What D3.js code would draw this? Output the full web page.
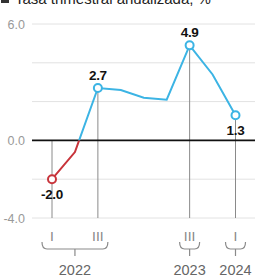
<!DOCTYPE html>
<html><head><meta charset="utf-8">
<script src="https://cdn.jsdelivr.net/npm/d3@7"></script>
<style>
html,body{margin:0;padding:0;background:#fff;}
svg{display:block;font-family:"Liberation Sans",Arial,sans-serif;}
</style></head>
<body><svg id="c" width="255" height="278"></svg>
<script>
const quarters = ["I","II","III","IV","I","II","III","IV","I"];
const years = ["2022","2022","2022","2022","2023","2023","2023","2023","2024"];
const values = [-2.0, -0.6, 2.7, 2.6, 2.2, 2.1, 4.9, 3.4, 1.3];
const labeled = [0, 2, 6, 8];
const yTicks = [6, 4, 2, 0, -2, -4];
const yTickLabels = ["6.0", "0.0", "-4.0"];
const yTickLabelValues = [6, 0, -4];
const yearGroups = [
  {year:"2022", from:0, to:2},
  {year:"2023", from:6, to:6},
  {year:"2024", from:8, to:8}
];
const title = "Tasa trimestral anualizada, %";

const svg = d3.select("#c");
const x = d3.scaleLinear().domain([0, 8]).range([52, 235.5]);
const y = d3.scaleLinear().domain([-4, 6]).range([218, 24]);
const blue = "#3cb4e4", red = "#c8343b";

// title (cut off at top, as in the source crop)
svg.append("rect").attr("x", 1).attr("y", -6).attr("width", 8).attr("height", 9).attr("fill", "#333");
svg.append("text").attr("x", 15).attr("y", 3.5).attr("font-size", 15).attr("fill", "#222").text(title);

// gridlines
svg.append("g").selectAll("line").data(yTicks.filter(d => d !== 0)).join("line")
  .attr("x1", 32).attr("x2", 255)
  .attr("y1", d => y(d)).attr("y2", d => y(d))
  .attr("stroke", "#e2e2e2").attr("stroke-width", 1);

// y labels
svg.append("g").selectAll("text").data(yTickLabelValues).join("text")
  .attr("x", 25).attr("y", d => y(d) + 4.5)
  .attr("text-anchor", "end").attr("font-size", 12.5).attr("fill", "#999")
  .text((d, i) => yTickLabels[i]);

// vertical drop lines at labeled points
svg.append("g").selectAll("line").data(labeled).join("line")
  .attr("x1", i => x(i)).attr("x2", i => x(i))
  .attr("y1", i => y(Math.max(values[i], 0))).attr("y2", y(-4))
  .attr("stroke", "#8a8a8a").attr("stroke-width", 1);

// zero line
svg.append("line").attr("x1", 32).attr("x2", 255).attr("y1", y(0)).attr("y2", y(0))
  .attr("stroke", "#111").attr("stroke-width", 1.6);

// clip paths
const defs = svg.append("defs");
defs.append("clipPath").attr("id", "pos").append("rect")
  .attr("x", 0).attr("y", 0).attr("width", 255).attr("height", y(0));
defs.append("clipPath").attr("id", "neg").append("rect")
  .attr("x", 0).attr("y", y(0)).attr("width", 255).attr("height", 278 - y(0));

const line = d3.line().x((d, i) => x(i)).y(d => y(d));
svg.append("path").datum(values).attr("d", line).attr("fill", "none")
  .attr("stroke", blue).attr("stroke-width", 2).attr("clip-path", "url(#pos)");
svg.append("path").datum(values).attr("d", line).attr("fill", "none")
  .attr("stroke", red).attr("stroke-width", 2).attr("clip-path", "url(#neg)");

// markers
svg.append("g").selectAll("circle").data(labeled).join("circle")
  .attr("cx", i => x(i)).attr("cy", i => y(values[i])).attr("r", 4)
  .attr("fill", "#fff").attr("stroke", i => values[i] < 0 ? red : blue).attr("stroke-width", 2);

// value labels
svg.append("g").selectAll("text").data(labeled).join("text")
  .attr("x", i => x(i))
  .attr("y", i => (i === 0 || i === 8) ? y(values[i]) + 20 : y(values[i]) - 8)
  .attr("text-anchor", "middle").attr("font-size", 13.5).attr("font-weight", "bold")
  .attr("fill", "#111").attr("letter-spacing", -0.3)
  .text(i => values[i].toFixed(1));

// quarter tick labels
svg.append("g").selectAll("text").data(labeled).join("text")
  .attr("x", i => x(i)).attr("y", 241)
  .attr("text-anchor", "middle").attr("font-size", 13).attr("fill", "#888")
  .attr("font-family", "'DejaVu Sans', sans-serif")
  .text(i => quarters[i]);

// braces and year labels
const bg = svg.append("g");
yearGroups.forEach(g => {
  const x1 = x(g.from) - 10, x2 = x(g.to) + 10;
  const cx = (x(g.from) + x(g.to)) / 2;
  const top = 242, bot = 249;
  bg.append("path")
    .attr("d", `M${x1},${top} Q${x1},${bot} ${x1 + 5},${bot} L${x2 - 5},${bot} Q${x2},${bot} ${x2},${top} M${cx},${bot} L${cx},${bot + 7}`)
    .attr("fill", "none").attr("stroke", "#8a8a8a").attr("stroke-width", 1.2);
  bg.append("text").attr("x", cx).attr("y", 275).attr("text-anchor", "middle")
    .attr("font-size", 14.5).attr("fill", "#666").text(g.year);
});
</script></body></html>
